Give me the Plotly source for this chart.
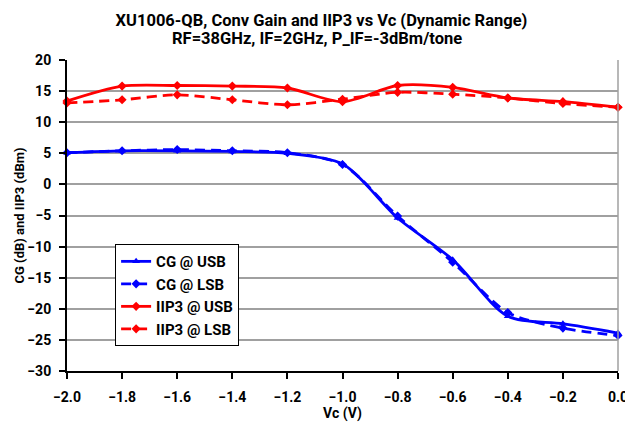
import plotly.graph_objects as go

vc = [-2.0, -1.8, -1.6, -1.4, -1.2, -1.0, -0.8, -0.6, -0.4, -0.2, 0.0]
cg_usb = [5.1, 5.4, 5.4, 5.3, 5.0, 3.3, -5.4, -12.1, -21.2, -22.4, -23.9]
cg_lsb = [5.1, 5.4, 5.6, 5.4, 5.1, 3.2, -5.1, -12.5, -20.6, -23.1, -24.3]
iip3_usb = [13.4, 15.8, 15.9, 15.8, 15.5, 13.3, 15.9, 15.6, 13.9, 13.3, 12.4]
iip3_lsb = [13.1, 13.6, 14.4, 13.6, 12.8, 13.7, 14.8, 14.5, 13.9, 13.0, 12.4]

x_ticks = [-2.0, -1.8, -1.6, -1.4, -1.2, -1.0, -0.8, -0.6, -0.4, -0.2, 0.0]
y_ticks = [20, 15, 10, 5, 0, -5, -10, -15, -20, -25, -30]

title_line1 = "XU1006-QB, Conv Gain and IIP3 vs Vc (Dynamic Range)"
title_line2 = "RF=38GHz, IF=2GHz, P_IF=-3dBm/tone"

FONT = "Roboto"
BLUE = "#0000FF"
RED = "#FF0000"

fig = go.Figure()

def add(name, y, color, symbol, dash, group):
    fig.add_trace(go.Scatter(
        x=vc, y=y, name=name, mode="lines+markers",
        line=dict(color=color, width=2.8, dash=dash, shape="spline", smoothing=0.8),
        marker=dict(color=color, symbol=symbol, size=7),
        cliponaxis=False, legendgroup=group,
    ))

add("CG @ USB", cg_usb, BLUE, "triangle-up", "solid", "a")
add("CG @ LSB", cg_lsb, BLUE, "diamond", "10px,6px", "b")
add("IIP3 @ USB", iip3_usb, RED, "diamond", "solid", "c")
add("IIP3 @ LSB", iip3_lsb, RED, "diamond", "10px,6px", "d")

fig.add_shape(type="line", xref="paper", yref="paper", x0=1, x1=1, y0=0, y1=1,
              line=dict(color="#a0a0a0", width=1.5))

fig.add_annotation(
    text=title_line2, xref="paper", yref="paper", x=0.4537, y=(363 - 30.5) / 311,
    xanchor="center", yanchor="middle", showarrow=False,
    font=dict(family=FONT, size=16.5, color="black", weight="bold"),
)

fig.update_layout(
    width=625, height=417,
    margin=dict(l=59, r=5, t=52, b=54),
    paper_bgcolor="white", plot_bgcolor="white",
    font=dict(family=FONT, size=14, color="black", weight="bold"),
    title=dict(
        text=title_line1,
        x=0.5016, xanchor="center", y=1 - 12.5 / 417, yanchor="middle",
        font=dict(family=FONT, size=16.5, color="black", weight="bold"),
    ),
    showlegend=True,
    legend=dict(
        x=0.0873, y=0.408, xanchor="left", yanchor="top",
        bordercolor="black", borderwidth=1, bgcolor="white",
        font=dict(family=FONT, size=15, color="black", weight="bold"),
        tracegroupgap=4, traceorder="normal",
    ),
    xaxis=dict(
        range=[-2.0, 0.0], tickvals=x_ticks, tickformat=".1f",
        showgrid=False, zeroline=False,
        showline=True, linecolor="black", linewidth=2,
        ticks="outside", ticklen=6, tickwidth=1.5, tickcolor="black",
        ticklabelstandoff=6, ticklabeloverflow="allow",
        tickfont=dict(family=FONT, size=14, weight="bold"),
        title=dict(text="Vc (V)", standoff=2, font=dict(family=FONT, size=14, weight="bold")),
    ),
    yaxis=dict(
        range=[-30, 20], tickvals=y_ticks,
        showgrid=True, gridcolor="#a0a0a0", gridwidth=1.5, zeroline=False,
        showline=True, linecolor="black", linewidth=2,
        ticks="outside", ticklen=6, tickwidth=1.5, tickcolor="black",
        ticklabelstandoff=5,
        tickfont=dict(family=FONT, size=14, weight="bold"),
        title=dict(text="CG (dB) and IIP3 (dBm)", standoff=0, font=dict(family=FONT, size=13, weight="bold")),
    ),
)

fig.write_html("out.html")
